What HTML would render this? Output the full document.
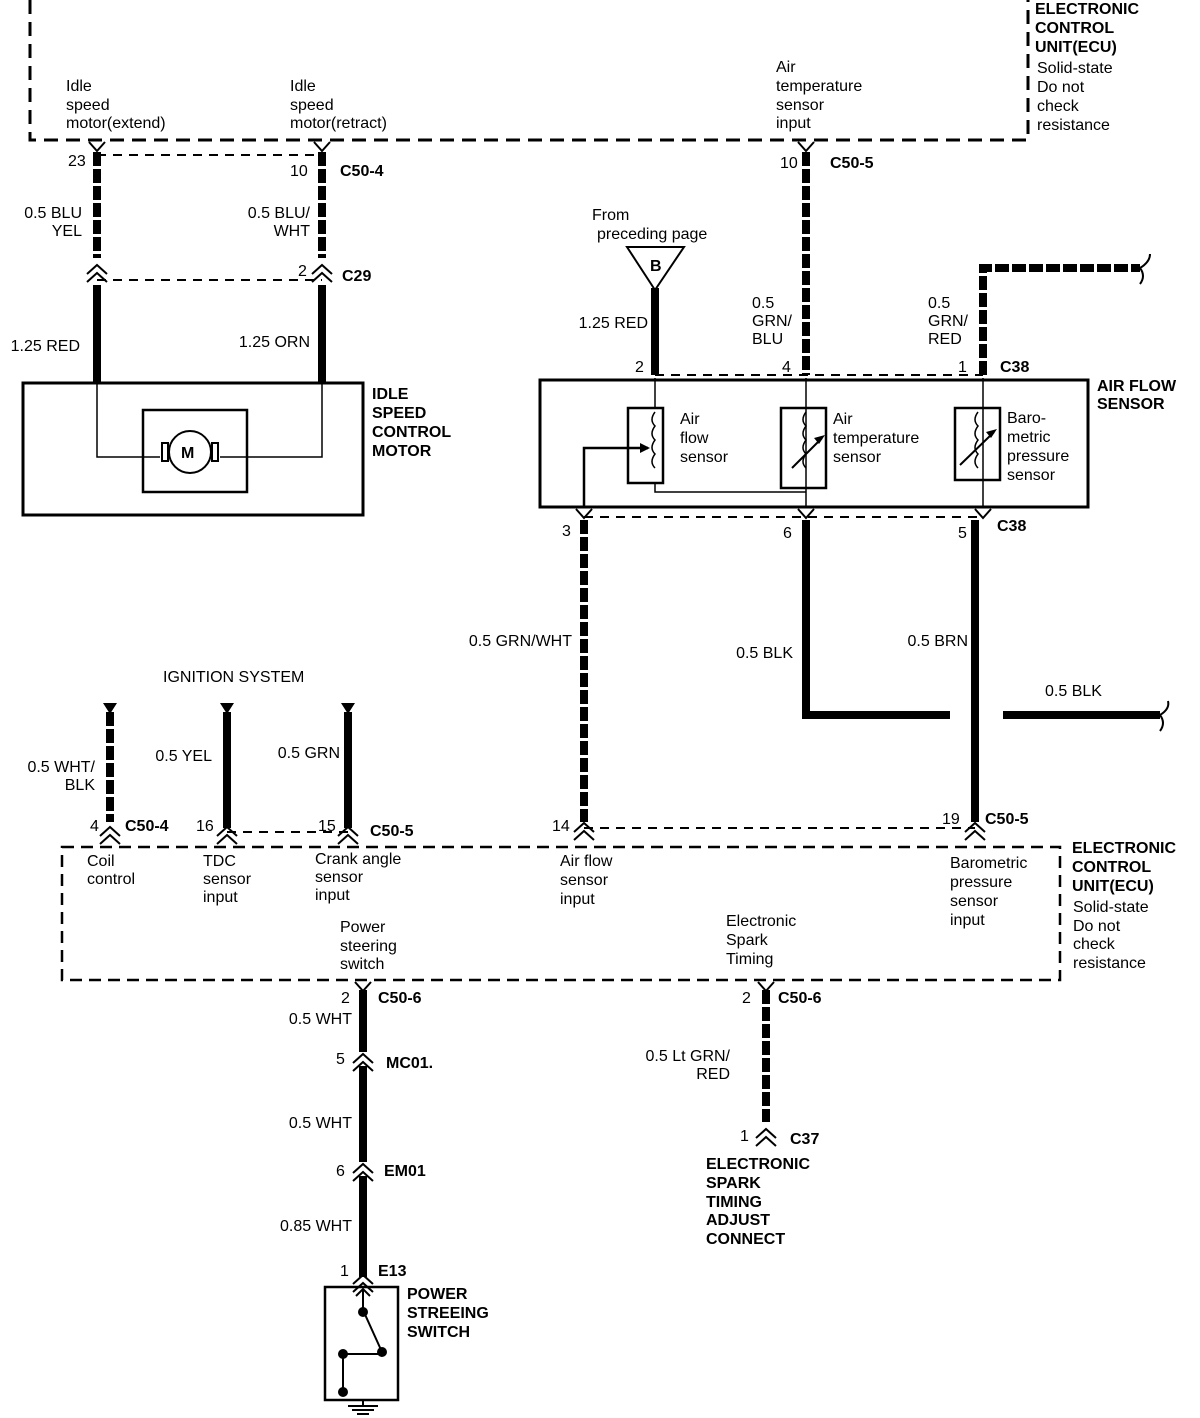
<!DOCTYPE html>
<html><head><meta charset="utf-8"><style>
html,body{margin:0;padding:0;background:#fff}
svg{display:block}
text{font-family:"Liberation Sans",sans-serif;font-size:16px;fill:#000}
.b{font-weight:bold}
</style></head><body>
<svg width="1200" height="1418" viewBox="0 0 1200 1418" xmlns="http://www.w3.org/2000/svg">
<defs>
<g id="vc"><path d="M-8,-6 L0,3 L8,-6" fill="none" stroke="#000" stroke-width="2"/></g>
<g id="dc"><path d="M-10,0 L0,-9 L10,0 M-10,8 L0,-1 L10,8" fill="none" stroke="#000" stroke-width="2"/></g>
</defs>
<g fill="none" stroke="#000">
<path d="M30,0 V140 H1028 V0" stroke-width="3" stroke-dasharray="14,8"/>
<path d="M62,847 H1060 V980 H62 Z" stroke-width="2.5" stroke-dasharray="12,7"/>
<g stroke-width="2" stroke-dasharray="9,7">
<path d="M97,155 H322"/><path d="M97,280 H322"/>
<path d="M655,375 H983"/><path d="M584,517 H983"/>
<path d="M227,832 H348"/><path d="M584,828 H975"/>
</g>
<g stroke-width="8" stroke-dasharray="14,3">
<path d="M97,152 V258"/><path d="M322,152 V258"/>
<path d="M806,152 V375"/>
<path d="M983,375 V268 H1140"/>
<path d="M584,520 V822"/>
<path d="M110,712 V822"/>
<path d="M766,990 V1122"/>
</g>
<g stroke-width="8">
<path d="M97,285 V383"/><path d="M322,285 V383"/>
<path d="M655,288 V375"/>
<path d="M806,520 V715 H950"/>
<path d="M975,520 V822"/>
<path d="M1003,715 H1160"/>
<path d="M227,712 V828"/><path d="M348,712 V828"/>
<path d="M363,990 V1052"/><path d="M363,1066 V1162"/><path d="M363,1176 V1277"/>
</g>
<path d="M1140,268 q10,-6 10,-14 M1140,268 q6,8 0,16" stroke-width="2"/>
<path d="M1160,715 q10,-6 8,-14 M1160,715 q6,8 0,16" stroke-width="2"/>
<rect x="23" y="383" width="340" height="132" stroke-width="3"/>
<path d="M97,383 V457 H160 M322,383 V457 H220" stroke-width="1.5"/>
<rect x="143" y="410" width="104" height="82" stroke-width="2.5"/>
<circle cx="190" cy="452" r="21" stroke-width="2"/>
<rect x="162" y="443" width="6" height="18" stroke-width="2"/>
<rect x="212" y="443" width="6" height="18" stroke-width="2"/>
<path d="M627,247 H684 L655,290 Z" stroke-width="2"/>
<rect x="540" y="380" width="548" height="127" stroke-width="3"/>
<path d="M655,378 V408 M655,483 V492 H806 M806,378 V507 M983,378 V507" stroke-width="1.5"/>
<rect x="628" y="408" width="35" height="75" stroke-width="2.5"/>
<rect x="781" y="408" width="45" height="80" stroke-width="2.5"/>
<rect x="955" y="408" width="45" height="72" stroke-width="2.5"/>
<path d="M655,412 q-6,8 0,14 q-6,8 0,14 q-6,8 0,14 q-6,8 0,14" stroke-width="1.5"/>
<path d="M806,412 q-6,8 0,14 q-6,8 0,14 q-6,8 0,14 q-6,8 0,14" stroke-width="1.5"/>
<path d="M978,412 q-6,8 0,14 q-6,8 0,14 q-6,8 0,14 q-6,8 0,14" stroke-width="1.5"/>
<path d="M792,468 L822,438 M960,465 L994,432" stroke-width="2"/>
<path d="M584,507 V448 H648" stroke-width="2.5"/>
<rect x="325" y="1287" width="73" height="113" stroke-width="2.5"/>
<path d="M363,1290 V1310 L382,1352 M343,1354 H382 M343,1354 V1392 M363,1400 V1406 M348,1406 H378 M352,1410 H374 M357,1414 H369" stroke-width="2"/>
<path d="M356,1296 L363,1289 L370,1296" stroke-width="2"/>
</g>
<path d="M650,448 L640,443 L640,453 Z M825,435 L814,438 L819,444 Z M997,429 L986,432 L991,438 Z"/>
<g>
<circle cx="363" cy="1312" r="5"/><circle cx="382" cy="1352" r="5"/><circle cx="343" cy="1354" r="5"/><circle cx="343" cy="1392" r="5"/>
</g>
<path d="M103,703 H117 L110,714 Z M220,703 H234 L227,714 Z M341,703 H355 L348,714 Z"/>
<use href="#vc" x="97" y="148"/><use href="#vc" x="322" y="148"/><use href="#vc" x="806" y="148"/>
<use href="#dc" x="97" y="274"/><use href="#dc" x="322" y="274"/>
<use href="#vc" x="584" y="515"/><use href="#vc" x="806" y="515"/><use href="#vc" x="983" y="515"/>
<use href="#dc" x="110" y="836"/><use href="#dc" x="227" y="836"/><use href="#dc" x="348" y="836"/>
<use href="#dc" x="584" y="832"/><use href="#dc" x="975" y="832"/>
<use href="#vc" x="363" y="988"/><use href="#vc" x="766" y="988"/>
<use href="#dc" x="363" y="1063"/><use href="#dc" x="363" y="1173"/><use href="#dc" x="766" y="1138"/>
<use href="#dc" x="363" y="1284"/>
<g>
<text x="1035" y="14" class="b">ELECTRONIC</text><text x="1035" y="33" class="b">CONTROL</text><text x="1035" y="52" class="b">UNIT(ECU)</text>
<text x="1037" y="73">Solid-state</text><text x="1037" y="92">Do not</text><text x="1037" y="111">check</text><text x="1037" y="130">resistance</text>
<text x="66" y="91">Idle</text><text x="66" y="110">speed</text><text x="66" y="128">motor(extend)</text>
<text x="290" y="91">Idle</text><text x="290" y="110">speed</text><text x="290" y="128">motor(retract)</text>
<text x="776" y="72">Air</text><text x="776" y="91">temperature</text><text x="776" y="110">sensor</text><text x="776" y="128">input</text>
<text x="68" y="166">23</text><text x="290" y="176">10</text><text x="340" y="176" class="b">C50-4</text>
<text x="780" y="168">10</text><text x="830" y="168" class="b">C50-5</text>
<text x="82" y="218" text-anchor="end">0.5 BLU</text><text x="82" y="236" text-anchor="end">YEL</text>
<text x="310" y="218" text-anchor="end">0.5 BLU/</text><text x="310" y="236" text-anchor="end">WHT</text>
<text x="298" y="276">2</text><text x="342" y="281" class="b">C29</text>
<text x="80" y="351" text-anchor="end">1.25 RED</text><text x="310" y="347" text-anchor="end">1.25 ORN</text>
<text x="372" y="399" class="b">IDLE</text><text x="372" y="418" class="b">SPEED</text><text x="372" y="437" class="b">CONTROL</text><text x="372" y="456" class="b">MOTOR</text>
<text x="181" y="458" class="b" font-size="14">M</text>
<text x="592" y="220">From</text><text x="597" y="239">preceding page</text>
<text x="650" y="271" class="b" font-size="14">B</text>
<text x="648" y="328" text-anchor="end">1.25 RED</text>
<text x="752" y="308">0.5</text><text x="752" y="326">GRN/</text><text x="752" y="344">BLU</text>
<text x="928" y="308">0.5</text><text x="928" y="326">GRN/</text><text x="928" y="344">RED</text>
<text x="635" y="372">2</text><text x="782" y="372">4</text><text x="958" y="372">1</text><text x="1000" y="372" class="b">C38</text>
<text x="1097" y="391" class="b">AIR FLOW</text><text x="1097" y="409" class="b">SENSOR</text>
<text x="680" y="424">Air</text><text x="680" y="443">flow</text><text x="680" y="462">sensor</text>
<text x="833" y="424">Air</text><text x="833" y="443">temperature</text><text x="833" y="462">sensor</text>
<text x="1007" y="423">Baro-</text><text x="1007" y="442">metric</text><text x="1007" y="461">pressure</text><text x="1007" y="480">sensor</text>
<text x="562" y="536">3</text><text x="783" y="538">6</text><text x="958" y="538">5</text><text x="997" y="531" class="b">C38</text>
<text x="572" y="646" text-anchor="end">0.5 GRN/WHT</text>
<text x="793" y="658" text-anchor="end">0.5 BLK</text>
<text x="968" y="646" text-anchor="end">0.5 BRN</text>
<text x="1045" y="696">0.5 BLK</text>
<text x="163" y="682">IGNITION SYSTEM</text>
<text x="95" y="772" text-anchor="end">0.5 WHT/</text><text x="95" y="790" text-anchor="end">BLK</text>
<text x="212" y="761" text-anchor="end">0.5 YEL</text><text x="340" y="758" text-anchor="end">0.5 GRN</text>
<text x="90" y="831">4</text><text x="125" y="831" class="b">C50-4</text>
<text x="196" y="831">16</text><text x="318" y="831">15</text><text x="370" y="836" class="b">C50-5</text>
<text x="552" y="831">14</text><text x="942" y="824">19</text><text x="985" y="824" class="b">C50-5</text>
<text x="87" y="866">Coil</text><text x="87" y="884">control</text>
<text x="203" y="866">TDC</text><text x="203" y="884">sensor</text><text x="203" y="902">input</text>
<text x="315" y="864">Crank angle</text><text x="315" y="882">sensor</text><text x="315" y="900">input</text>
<text x="560" y="866">Air flow</text><text x="560" y="885">sensor</text><text x="560" y="904">input</text>
<text x="950" y="868">Barometric</text><text x="950" y="887">pressure</text><text x="950" y="906">sensor</text><text x="950" y="925">input</text>
<text x="1072" y="853" class="b">ELECTRONIC</text><text x="1072" y="872" class="b">CONTROL</text><text x="1072" y="891" class="b">UNIT(ECU)</text>
<text x="1073" y="912">Solid-state</text><text x="1073" y="931">Do not</text><text x="1073" y="949">check</text><text x="1073" y="968">resistance</text>
<text x="340" y="932">Power</text><text x="340" y="951">steering</text><text x="340" y="969">switch</text>
<text x="726" y="926">Electronic</text><text x="726" y="945">Spark</text><text x="726" y="964">Timing</text>
<text x="341" y="1003">2</text><text x="378" y="1003" class="b">C50-6</text>
<text x="742" y="1003">2</text><text x="778" y="1003" class="b">C50-6</text>
<text x="352" y="1024" text-anchor="end">0.5 WHT</text>
<text x="336" y="1064">5</text><text x="386" y="1068" class="b">MC01.</text>
<text x="352" y="1128" text-anchor="end">0.5 WHT</text>
<text x="336" y="1176">6</text><text x="384" y="1176" class="b">EM01</text>
<text x="352" y="1231" text-anchor="end">0.85 WHT</text>
<text x="340" y="1276">1</text><text x="378" y="1276" class="b">E13</text>
<text x="407" y="1299" class="b">POWER</text><text x="407" y="1318" class="b">STREEING</text><text x="407" y="1337" class="b">SWITCH</text>
<text x="730" y="1061" text-anchor="end">0.5 Lt GRN/</text><text x="730" y="1079" text-anchor="end">RED</text>
<text x="740" y="1141">1</text><text x="790" y="1144" class="b">C37</text>
<text x="706" y="1169" class="b">ELECTRONIC</text><text x="706" y="1188" class="b">SPARK</text><text x="706" y="1207" class="b">TIMING</text><text x="706" y="1225" class="b">ADJUST</text><text x="706" y="1244" class="b">CONNECT</text>
</g>
</svg>
</body></html>
